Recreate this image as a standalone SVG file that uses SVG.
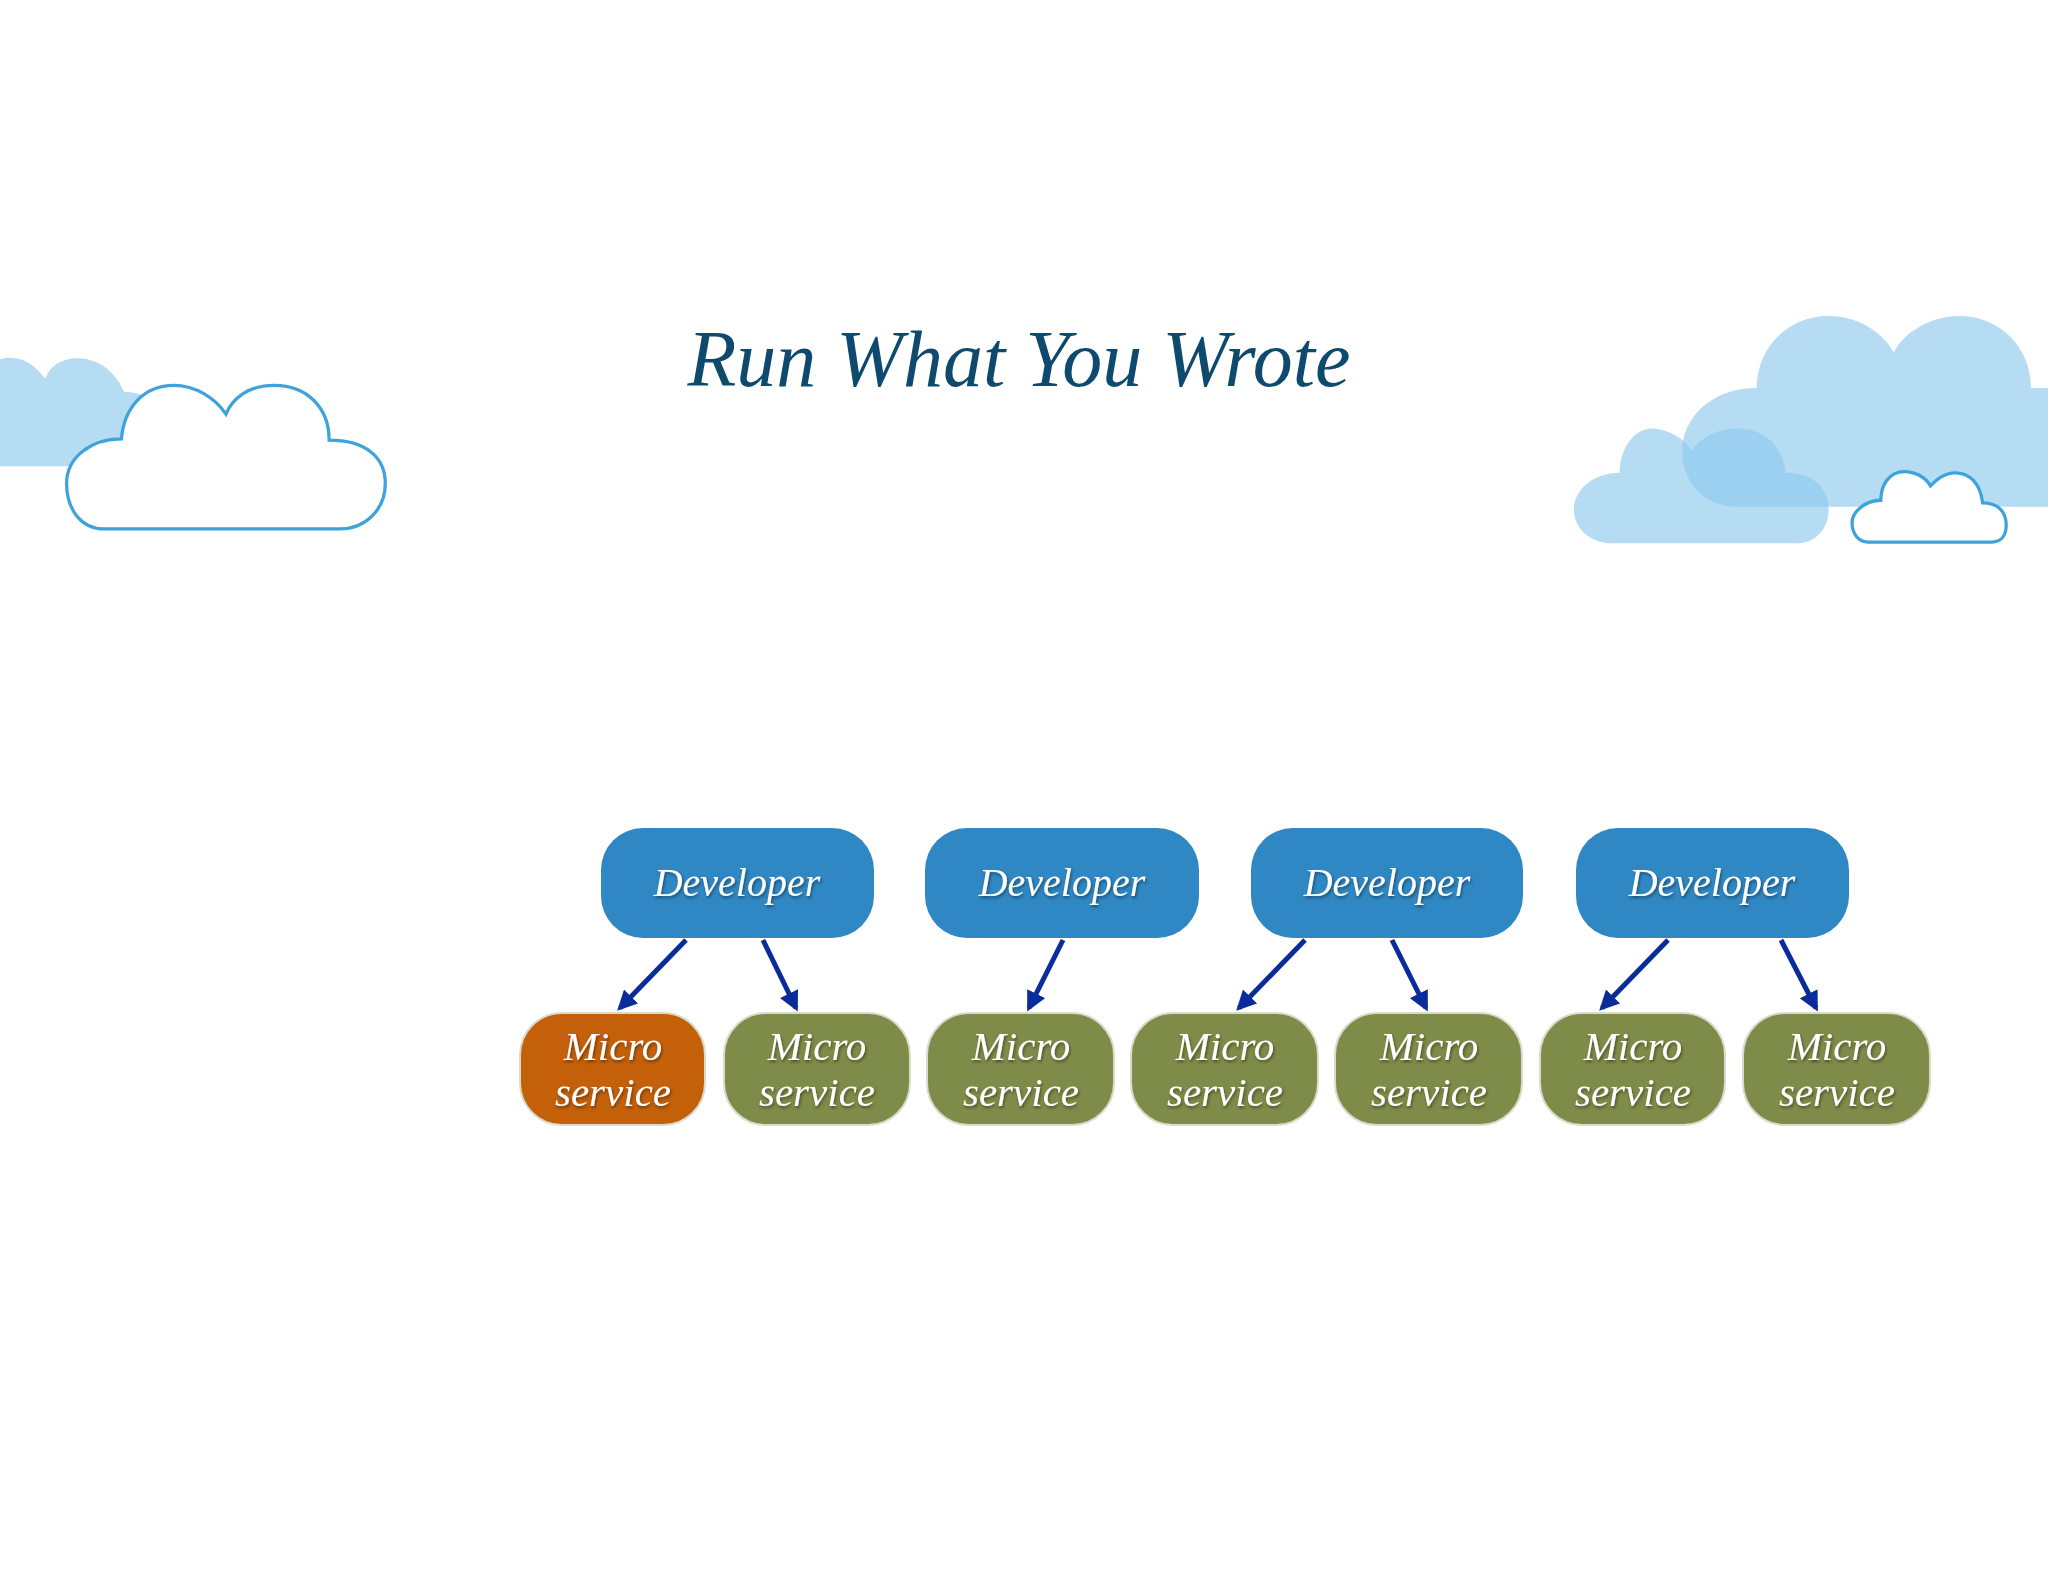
<svg xmlns="http://www.w3.org/2000/svg" width="2048" height="1582" viewBox="0 0 2048 1582">
<defs>
<style>
.dev{fill:#2f87c3}
.ms{fill:#7f8b48;stroke:#d8dccb;stroke-width:2}
.ms.hot{fill:#c4600a}
.t{font-family:"Liberation Serif",serif;font-style:italic;fill:#fff;text-anchor:middle}
.c{stroke:#0a2c9a;stroke-width:5;marker-end:url(#ah)}
</style>
<marker id="ah" viewBox="0 0 10 10" refX="8" refY="5" markerWidth="4" markerHeight="4" orient="auto"><path d="M0,0L10,5L0,10Z" fill="#0a2c9a"/></marker>
<filter id="sh"><feDropShadow dx="1" dy="2" stdDeviation="1.5" flood-opacity="0.45"/></filter>
</defs>
<rect width="2048" height="1582" fill="#fff"/>
<g id="clouds" transform="scale(1.30612)">
<path d="M0,357 L0,275 C20,270 30,285 35,290 C40,270 80,265 95,300 C115,300 130,315 128,330 C128,345 118,357 105,357 Z" fill="#b5dcf3"/>
<path d="M80,405 H260 C280,405 295,390 295,370 C295,350 280,337 252,337 C252,312 235,295 210,295 C190,295 178,305 173,317 C165,305 150,295 133,295 C110,295 95,312 93,336 C70,336 51,350 51,370 C51,390 62,405 80,405 Z" fill="#fff" stroke="#3fa3db" stroke-width="2.5"/>
<path d="M1330,388 H1568 V297 H1555 C1555,265 1530,242 1500,242 C1475,242 1455,258 1450,270 C1440,252 1420,242 1400,242 C1370,242 1345,265 1345,297 C1310,297 1288,320 1288,345 C1288,370 1305,388 1330,388 Z" fill="#8fcaee" opacity="0.65"/>
<path d="M1235,416 H1375 C1390,416 1400,405 1400,390 C1400,375 1390,362 1367,362 C1365,340 1350,328 1330,328 C1310,328 1298,340 1295,345 C1290,335 1275,328 1265,328 C1250,328 1240,345 1240,362 C1220,362 1205,375 1205,390 C1205,405 1218,416 1235,416 Z" fill="#8fcaee" opacity="0.65"/>
<path d="M1430,415 H1525 C1532,415 1536,410 1536,402 C1536,392 1530,385 1518,385 C1516,370 1508,362 1497,362 C1488,362 1482,368 1478,372 C1474,365 1466,361 1458,361 C1446,361 1440,372 1440,383 C1428,383 1418,392 1418,400 C1418,410 1424,415 1430,415 Z" fill="#fff" stroke="#3fa3db" stroke-width="2.5"/>
</g>
<text x="1019" y="386" font-family="Liberation Serif,serif" font-style="italic" font-size="80" fill="#0d4a6e" text-anchor="middle">Run What You Wrote</text>
<g id="connectors">
<line class="c" x1="686" y1="940" x2="620" y2="1008"/>
<line class="c" x1="763" y1="940" x2="796" y2="1008"/>
<line class="c" x1="1063" y1="940" x2="1029" y2="1008"/>
<line class="c" x1="1305" y1="940" x2="1239" y2="1008"/>
<line class="c" x1="1392" y1="940" x2="1426" y2="1008"/>
<line class="c" x1="1668" y1="940" x2="1602" y2="1008"/>
<line class="c" x1="1781" y1="940" x2="1816" y2="1008"/>
</g>
<g id="dev1"><rect class="dev" x="601" y="828" width="273" height="110" rx="42"/><text class="t" x="737" y="896" font-size="40" filter="url(#sh)">Developer</text></g>
<g id="dev2"><rect class="dev" x="925" y="828" width="274" height="110" rx="42"/><text class="t" x="1062" y="896" font-size="40" filter="url(#sh)">Developer</text></g>
<g id="dev3"><rect class="dev" x="1251" y="828" width="272" height="110" rx="42"/><text class="t" x="1387" y="896" font-size="40" filter="url(#sh)">Developer</text></g>
<g id="dev4"><rect class="dev" x="1576" y="828" width="273" height="110" rx="42"/><text class="t" x="1712" y="896" font-size="40" filter="url(#sh)">Developer</text></g>
<g id="ms1"><rect class="ms hot" x="520" y="1013" width="185" height="112" rx="42"/><text class="t" font-size="41" filter="url(#sh)"><tspan x="613" y="1060">Micro</tspan><tspan x="613" y="1106">service</tspan></text></g>
<g id="ms2"><rect class="ms" x="724" y="1013" width="186" height="112" rx="42"/><text class="t" font-size="41" filter="url(#sh)"><tspan x="817" y="1060">Micro</tspan><tspan x="817" y="1106">service</tspan></text></g>
<g id="ms3"><rect class="ms" x="927" y="1013" width="187" height="112" rx="42"/><text class="t" font-size="41" filter="url(#sh)"><tspan x="1021" y="1060">Micro</tspan><tspan x="1021" y="1106">service</tspan></text></g>
<g id="ms4"><rect class="ms" x="1131" y="1013" width="187" height="112" rx="42"/><text class="t" font-size="41" filter="url(#sh)"><tspan x="1225" y="1060">Micro</tspan><tspan x="1225" y="1106">service</tspan></text></g>
<g id="ms5"><rect class="ms" x="1335" y="1013" width="187" height="112" rx="42"/><text class="t" font-size="41" filter="url(#sh)"><tspan x="1429" y="1060">Micro</tspan><tspan x="1429" y="1106">service</tspan></text></g>
<g id="ms6"><rect class="ms" x="1540" y="1013" width="185" height="112" rx="42"/><text class="t" font-size="41" filter="url(#sh)"><tspan x="1633" y="1060">Micro</tspan><tspan x="1633" y="1106">service</tspan></text></g>
<g id="ms7"><rect class="ms" x="1743" y="1013" width="187" height="112" rx="42"/><text class="t" font-size="41" filter="url(#sh)"><tspan x="1837" y="1060">Micro</tspan><tspan x="1837" y="1106">service</tspan></text></g>
</svg>
